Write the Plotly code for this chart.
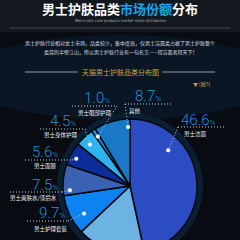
import math
import plotly.graph_objects as go

W, H = 240, 270

# ---------------- data ----------------
categories = ['男士洁面', '男士乳液面霜', '男士护理套装', '男士爽肤水/须后水',
              '男士面膜', '男士身体护理', '男士眼部护理', '其他']
shares = [46.6, 16.4, 9.7, 7.5, 5.6, 4.5, 1.0, 8.7]
slice_colors = ['#2b4cc2', '#6cb2e2', '#0d82f2', '#3b62b2',
                '#0b2c9a', '#2fb2f0', '#1696ea', '#1a78c8']

title_main = '男士护肤品类'
title_hi = '市场份额'
title_end = '分布'
subtitle = "Men's skin care products market share distribution"
para1 = '男士护肤行业相对女士市场，品类较少，集中度高，仅男士洁面类占据了男士护肤整个'
para2 = '类目的半壁江山，所以男士护肤行业有一句名言——得洁面者得天下！'
section_title = '天猫男士护肤品类分布图'
fig_tag = '▼ [图3]'

# ---------------- layout (pixel positions) ----------------
CX, CY, R = 130, 186, 67
RING = 73
# category -> (num_x, num_y, line_x0, line_x1, line_y, name_x, name_y, leader_end, frac_in_slice, radial_frac)
label_layout = {
    '男士洁面':        (179, 120, 178, 226, 127, 182, 134, 'L', 0.28, 0.78),
    '男士护理套装':    (37, 213, 27, 68, 221, 32, 229, 'R', 0.35, 0.80),
    '男士爽肤水/须后水': (30, 185, 10, 62, 192, 8, 198, 'R', 0.16, 0.90),
    '男士面膜':        (30, 152, 25, 72, 160, 32, 166, 'R', 0.41, 0.90),
    '男士身体护理':    (48, 121, 40, 85, 129, 42, 135, 'R', 0.44, 0.86),
    '男士眼部护理':    (82, 98, 72, 117, 106, 76, 113, 'R', 0.50, 0.88),
    '其他':            (133, 96, 125, 172, 104, 127, 111, 'L', 0.94, 0.88),
}

CJK = 'Noto Sans CJK SC'
NUM_COLOR = '#1e8fd8'
GOLD = '#c9a24a'


def px(x):
    return x / W


def py(y):
    return 1 - y / H


fig = go.Figure()

# outer dark ring
fig.add_trace(go.Pie(
    values=[1], labels=['ring'], marker=dict(colors=['#0b1f33'], line=dict(width=0)),
    domain=dict(x=[px(CX - RING), px(CX + RING)], y=[py(CY + RING), py(CY - RING)]),
    textinfo='none', hoverinfo='skip', showlegend=False, sort=False))

# main pie
fig.add_trace(go.Pie(
    values=shares, labels=categories, sort=False, direction='clockwise', rotation=0,
    marker=dict(colors=slice_colors, line=dict(color='#05080d', width=1.5)),
    domain=dict(x=[px(CX - R), px(CX + R)], y=[py(CY + R), py(CY - R)]),
    textinfo='none', hoverinfo='label+percent', showlegend=False))

shapes = []
annotations = []

# background tints
shapes.append(dict(type='rect', xref='paper', yref='paper', x0=0, x1=1, y0=py(32), y1=1,
                   fillcolor='rgba(40,48,58,0.35)', line_width=0, layer='below'))
shapes.append(dict(type='circle', xref='paper', yref='paper', x0=px(-40), x1=px(280),
                   y0=py(120), y1=py(35), fillcolor='rgba(20,60,95,0.22)', line_width=0, layer='below'))

# separator lines
shapes.append(dict(type='line', xref='paper', yref='paper', x0=px(10), x1=px(230), y0=py(28), y1=py(28),
                   line=dict(color='#3b4550', width=1), layer='below'))
shapes.append(dict(type='line', xref='paper', yref='paper', x0=px(25), x1=px(78), y0=py(72), y1=py(72),
                   line=dict(color='#4a5661', width=2), layer='below'))
shapes.append(dict(type='line', xref='paper', yref='paper', x0=px(162), x1=px(215), y0=py(72), y1=py(72),
                   line=dict(color='#4a5661', width=2), layer='below'))

# title & text
annotations.append(dict(xref='paper', yref='paper', x=px(120), y=py(9), showarrow=False,
                        xanchor='center', yanchor='middle',
                        text=f"<b>{title_main}<span style='color:#1ea3e8'>{title_hi}</span>{title_end}</b>",
                        font=dict(family=CJK, size=13, color='#ffffff')))
annotations.append(dict(xref='paper', yref='paper', x=px(120), y=py(21), showarrow=False,
                        xanchor='center', yanchor='middle', text=subtitle,
                        font=dict(family='Liberation Sans Narrow, DejaVu Sans Condensed, Liberation Sans',
                                  size=4, color='#aab0b8')))
annotations.append(dict(xref='paper', yref='paper', x=px(120), y=py(43), showarrow=False,
                        xanchor='center', yanchor='middle', text=para1,
                        font=dict(family=CJK, size=5, color='#dadde2')))
annotations.append(dict(xref='paper', yref='paper', x=px(120), y=py(52), showarrow=False,
                        xanchor='center', yanchor='middle', text=para2,
                        font=dict(family=CJK, size=5, color='#dadde2')))
annotations.append(dict(xref='paper', yref='paper', x=px(120), y=py(72), showarrow=False,
                        xanchor='center', yanchor='middle', text=section_title,
                        font=dict(family=CJK, size=7, color=GOLD)))
annotations.append(dict(xref='paper', yref='paper', x=px(213), y=py(84), showarrow=False,
                        xanchor='right', yanchor='middle', text=fig_tag,
                        font=dict(family=CJK, size=5, color=GOLD)))

# slice labels, leaders, dots (anchor points derived from the data)
total = sum(shares)
cum = 0.0
for cat, val in zip(categories, shares):
    start = cum / total * 360
    end = (cum + val) / total * 360
    cum += val
    if cat not in label_layout:
        continue
    nx, ny, lx0, lx1, ly, tx, ty, side, frac, rf = label_layout[cat]
    ang = math.radians(start + (end - start) * frac)
    dx = CX + R * rf * math.sin(ang)
    dy = CY - R * rf * math.cos(ang)
    # number
    annotations.append(dict(xref='paper', yref='paper', x=px(nx), y=py(ny), showarrow=False,
                            xanchor='left', yanchor='middle',
                            text=f"{val:.1f}<span style='font-size:8px'>%</span>",
                            font=dict(family='Roboto', size=15, color=NUM_COLOR, weight=300)))
    # name
    annotations.append(dict(xref='paper', yref='paper', x=px(tx), y=py(ty), showarrow=False,
                            xanchor='left', yanchor='middle', text=cat,
                            font=dict(family=CJK, size=5.5, color='#eef0f3')))
    # underline
    shapes.append(dict(type='line', xref='paper', yref='paper', x0=px(lx0), x1=px(lx1),
                       y0=py(ly), y1=py(ly), layer='above',
                       line=dict(color='#c8d0d8', width=1, dash='1px,2px')))
    # leader
    sx = lx0 if side == 'L' else lx1
    shapes.append(dict(type='line', xref='paper', yref='paper', x0=px(sx), x1=px(dx),
                       y0=py(ly), y1=py(dy), layer='above',
                       line=dict(color='#c8d0d8', width=1, dash='1px,2px')))
    # dot
    shapes.append(dict(type='circle', xref='paper', yref='paper', x0=px(dx - 2), x1=px(dx + 2),
                       y0=py(dy + 2), y1=py(dy - 2), fillcolor='#ffffff', layer='above',
                       line=dict(color='rgba(160,210,255,0.6)', width=0.5)))

fig.update_layout(
    width=W, height=H, margin=dict(l=0, r=0, t=0, b=0),
    paper_bgcolor='#080c12', plot_bgcolor='#080c12',
    shapes=shapes, annotations=annotations, showlegend=False,
)

fig.write_html(
    "out.html",
    config={'displayModeBar': False},
    post_script="document.body.style.margin='0';document.body.style.overflow='hidden';"
                "document.documentElement.style.overflow='hidden';",
)
